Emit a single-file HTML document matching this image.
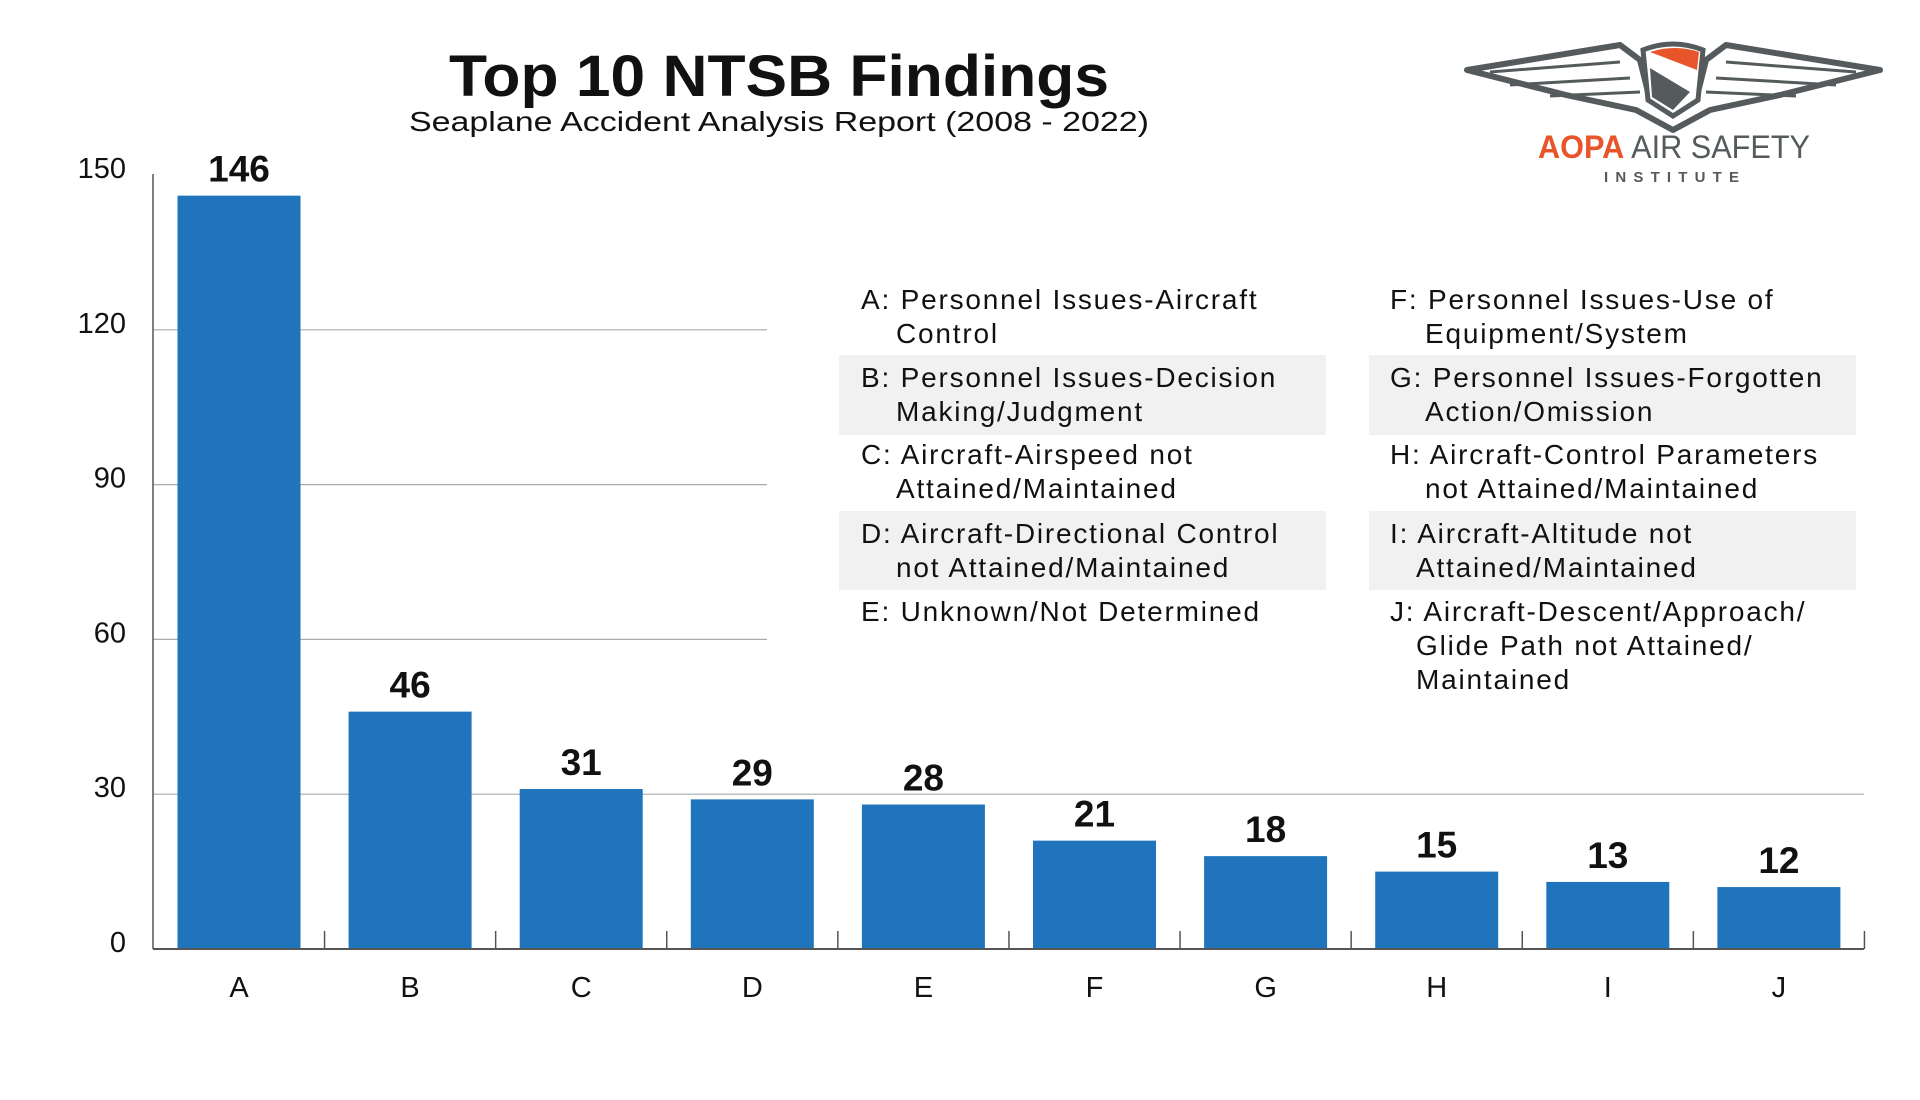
<!DOCTYPE html>
<html><head><meta charset="utf-8"><style>
html,body{margin:0;padding:0;background:#fff;}
svg{display:block;font-family:"Liberation Sans",sans-serif;}
</style></head><body>
<svg id="chart" width="1920" height="1100" viewBox="0 0 1920 1100">
<text x="779" y="96" text-anchor="middle" font-size="58" font-weight="bold" fill="#111" textLength="660" lengthAdjust="spacingAndGlyphs">Top 10 NTSB Findings</text>
<text x="779" y="131" text-anchor="middle" font-size="28" fill="#111" textLength="740" lengthAdjust="spacingAndGlyphs">Seaplane Accident Analysis Report (2008 - 2022)</text>
<g id="grid"></g>
<g id="bars"></g>
<g id="axes"></g>
<g font-size="28" fill="#111" letter-spacing="1.8">
<rect x="839" y="355" width="487" height="80" fill="#f0f1f0"/>
<rect x="839" y="511" width="487" height="79" fill="#f0f1f0"/>
<rect x="1369" y="355" width="487" height="80" fill="#f0f1f0"/>
<rect x="1369" y="511" width="487" height="79" fill="#f0f1f0"/>
<text x="861" y="309">A: Personnel Issues-Aircraft<tspan x="896" dy="34">Control</tspan></text>
<text x="861" y="387">B: Personnel Issues-Decision<tspan x="896" dy="34">Making/Judgment</tspan></text>
<text x="861" y="464">C: Aircraft-Airspeed not<tspan x="896" dy="34">Attained/Maintained</tspan></text>
<text x="861" y="543">D: Aircraft-Directional Control<tspan x="896" dy="34">not Attained/Maintained</tspan></text>
<text x="861" y="621">E: Unknown/Not Determined</text>
<text x="1390" y="309">F: Personnel Issues-Use of<tspan x="1425" dy="34">Equipment/System</tspan></text>
<text x="1390" y="387">G: Personnel Issues-Forgotten<tspan x="1425" dy="34">Action/Omission</tspan></text>
<text x="1390" y="464">H: Aircraft-Control Parameters<tspan x="1425" dy="34">not Attained/Maintained</tspan></text>
<text x="1390" y="543">I: Aircraft-Altitude not<tspan x="1416" dy="34">Attained/Maintained</tspan></text>
<text x="1390" y="621">J: Aircraft-Descent/Approach/<tspan x="1416" dy="34">Glide Path not Attained/</tspan><tspan x="1416" dy="34">Maintained</tspan></text>
</g>
<g>
<g fill="none" stroke="#555a5c" stroke-width="6" stroke-linejoin="round">
<path d="M1467 70 L1620 45 L1640 60 L1650 100 L1673 115 L1696 100 L1706 60 L1726 45 L1880 70 L1780 95 L1710 110 L1673 130 L1636 110 L1566 95 Z"/>
<path d="M1490 72 L1620 62 M1510 85 L1630 78 M1550 96 L1640 92 M1856 72 L1726 62 M1836 85 L1716 78 M1796 96 L1706 92" stroke-width="3"/>
</g>
<path d="M1643 50 Q1673 38 1703 50 L1698 100 L1673 116 L1648 100 Z" fill="#fff" stroke="#555a5c" stroke-width="5"/>
<path d="M1650 52 Q1675 44 1699 52 L1697 70 Z" fill="#e8552b"/>
<path d="M1650 68 L1690 92 L1673 110 L1652 97 Z" fill="#555a5c"/>
<text x="1538" y="158" font-size="32" textLength="272" lengthAdjust="spacingAndGlyphs"><tspan fill="#e8552b" font-weight="bold">AOPA</tspan><tspan fill="#555a5c"> AIR SAFETY</tspan></text>
<text x="1604" y="182" font-size="15" font-weight="bold" fill="#555a5c" textLength="135" lengthAdjust="spacing">INSTITUTE</text>
</g>
</svg>
<script>
const categories = ["A","B","C","D","E","F","G","H","I","J"];
const values = [146,46,31,29,28,21,18,15,13,12];
const yTicks = [0,30,60,90,120,150];
const NS = "http://www.w3.org/2000/svg";
const x0 = 153, base = 949, pitch = 171.1, barW = 123, pxPerUnit = 5.16, xEnd = 1864;
function yScale(v){ return base - v * pxPerUnit; }
function xCenter(i){ return 239 + i * pitch; }
function mk(tag, attrs, parent){ const e = document.createElementNS(NS, tag); for (const k in attrs) e.setAttribute(k, attrs[k]); parent.appendChild(e); return e; }
const grid = document.getElementById('grid'), bars = document.getElementById('bars'), axes = document.getElementById('axes');
yTicks.forEach(t => {
  const y = yScale(t);
  if (t > 0 && t < 150) {
    const l = mk('line', {x1:x0, x2: t === 30 ? xEnd : 767, y1:y, y2:y, stroke:'#aaaaaa', 'stroke-width':1.2}, grid);
    
    
  }
  const tx = mk('text', {x:126, y:y + 3, 'text-anchor':'end', 'font-size':29, fill:'#111'}, axes);
  tx.textContent = t;
  
  
});
categories.forEach((c, i) => {
  const cx = xCenter(i), y = yScale(values[i]);
  const r = mk('rect', {x:cx - barW/2, y:y, width:barW, height:base - y, fill:'#1f74bb'}, bars);
  
  
  const v = mk('text', {x:cx, y:y - 14, 'text-anchor':'middle', 'font-size':37, 'font-weight':'bold', fill:'#111'}, bars);
  v.textContent = values[i];
  
  
  const xl = mk('text', {x:cx, y:997, 'text-anchor':'middle', 'font-size':29, fill:'#111'}, axes);
  xl.textContent = c;
  
  
  const tk = mk('line', {x1:cx + pitch/2, x2:cx + pitch/2, y1:base - 18, y2:base, stroke:'#555', 'stroke-width':1.5}, axes);
  
  
});
const ya = mk('line', {x1:x0, x2:x0, y1:174, y2:base, stroke:'#555', 'stroke-width':1.5}, axes);


const xa = mk('line', {x1:x0, x2:xEnd, y1:base, y2:base, stroke:'#555', 'stroke-width':2}, axes);


</script>
</body></html>
